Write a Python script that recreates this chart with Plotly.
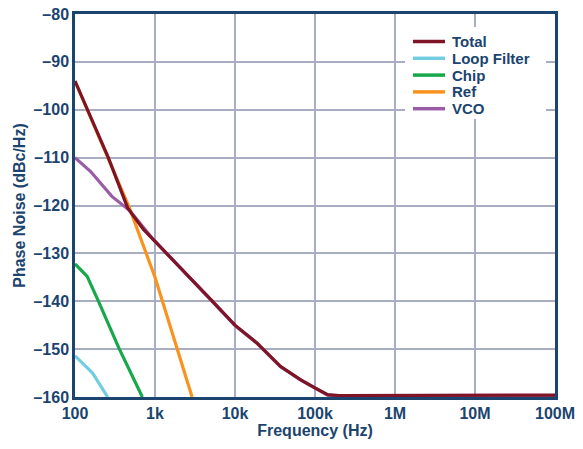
import plotly.graph_objects as go

# Data
total_f = [100, 155, 261, 455, 717, 1000, 1830, 5040, 10000, 18800, 37000, 66500, 100000, 144000, 200000, 1e6, 1e7, 1e8]
total_v = [-94, -101.5, -110, -120.5, -125, -127.5, -132, -139.7, -145, -148.7, -153.6, -156.4, -158.1, -159.5, -159.7, -159.7, -159.7, -159.6]

loop_f = [100, 129, 166, 256]
loop_v = [-151.4, -153.3, -155, -160]

chip_f = [100, 142, 193, 354, 695]
chip_v = [-132.2, -134.8, -139.7, -149.8, -160]

ref_f = [100, 155, 261, 479, 1000, 2910]
ref_v = [-94, -101.5, -110, -120.5, -135, -160]

vco_f = [100, 157, 289, 479, 920, 1830, 5040, 10000, 18800, 37000, 66500, 100000, 144000, 200000, 1e6, 1e7, 1e8]
vco_v = [-110, -112.9, -118.1, -121, -126.8, -132.1, -139.8, -145.1, -148.8, -153.7, -156.5, -158.2, -159.6, -159.8, -159.8, -159.8, -159.7]

legend_names = ["Total", "Loop Filter", "Chip", "Ref", "VCO"]

x_tickvals = [100, 1e3, 1e4, 1e5, 1e6, 1e7, 1e8]
x_ticktext = ["100", "1k", "10k", "100k", "1M", "10M", "100M"]
y_tickvals = [-160, -150, -140, -130, -120, -110, -100, -90, -80]
y_ticktext = ["–160", "–150", "–140", "–130", "–120", "–110", "–100", "–90", "–80"]

NAVY = "#1b446e"
GRID = "#a9adc1"
FONT = "Liberation Sans, Arial, sans-serif"
COLORS = {"Total": "#7e1426", "Loop Filter": "#72cde2", "Chip": "#17a84b",
          "Ref": "#f7931e", "VCO": "#9a5ca6"}

W, H = 583, 449
ML, MR, MT, MB = 75, 28, 14, 52
PW, PH = W - ML - MR, H - MT - MB

def px(xp):
    return (xp - ML) / PW

def py(yp):
    return (H - MB - yp) / PH

fig = go.Figure()
# drawing order: Total on top
for name, f, v in [("Loop Filter", loop_f, loop_v), ("Chip", chip_f, chip_v),
                   ("Ref", ref_f, ref_v), ("VCO", vco_f, vco_v),
                   ("Total", total_f, total_v)]:
    fig.add_trace(go.Scatter(x=f, y=v, mode="lines", name=name,
                             line=dict(color=COLORS[name], width=3.2),
                             showlegend=False))

# manual legend (compact rows as in the reference)
shapes = [dict(type="rect", xref="paper", yref="paper", layer="above",
               x0=px(405), x1=px(546), y0=py(119), y1=py(27),
               fillcolor="white", line=dict(width=0))]
annotations = []
row0, step = 41.5, 16.8
for i, name in enumerate(legend_names):
    yc = row0 + i * step
    shapes.append(dict(type="line", xref="paper", yref="paper", layer="above",
                       x0=px(413), x1=px(445), y0=py(yc), y1=py(yc),
                       line=dict(color=COLORS[name], width=3.5)))
    annotations.append(dict(xref="paper", yref="paper", x=px(451), y=py(yc),
                            xanchor="left", yanchor="middle", showarrow=False,
                            text=f"<b>{name}</b>", borderpad=0,
                            font=dict(family=FONT, size=15, color=NAVY)))

fig.update_layout(
    width=W, height=H,
    margin=dict(l=ML, r=MR, t=MT, b=MB, autoexpand=False),
    paper_bgcolor="white", plot_bgcolor="white",
    font=dict(family=FONT, size=16, color=NAVY),
    showlegend=False,
    shapes=shapes, annotations=annotations,
)
fig.update_xaxes(type="log", range=[2, 8], tickvals=x_tickvals, ticktext=x_ticktext,
                 showgrid=True, gridcolor=GRID, gridwidth=2,
                 showline=True, linecolor=NAVY, linewidth=2.5, mirror=True,
                 ticks="", zeroline=False, automargin=False,
                 tickfont=dict(family=FONT, size=16, color=NAVY, weight="bold"),
                 title=dict(text="<b>Frequency (Hz)</b>", font=dict(family=FONT, size=16, color=NAVY), standoff=4))
fig.update_yaxes(range=[-160, -80], tickvals=y_tickvals, ticktext=y_ticktext,
                 showgrid=True, gridcolor=GRID, gridwidth=2,
                 showline=True, linecolor=NAVY, linewidth=2.5, mirror=True,
                 ticks="", zeroline=False, automargin=False,
                 tickfont=dict(family=FONT, size=16, color=NAVY, weight="bold"),
                 title=dict(text="<b>Phase Noise (dBc/Hz)</b>", font=dict(family=FONT, size=16, color=NAVY), standoff=4))

fig.write_html("out.html")
